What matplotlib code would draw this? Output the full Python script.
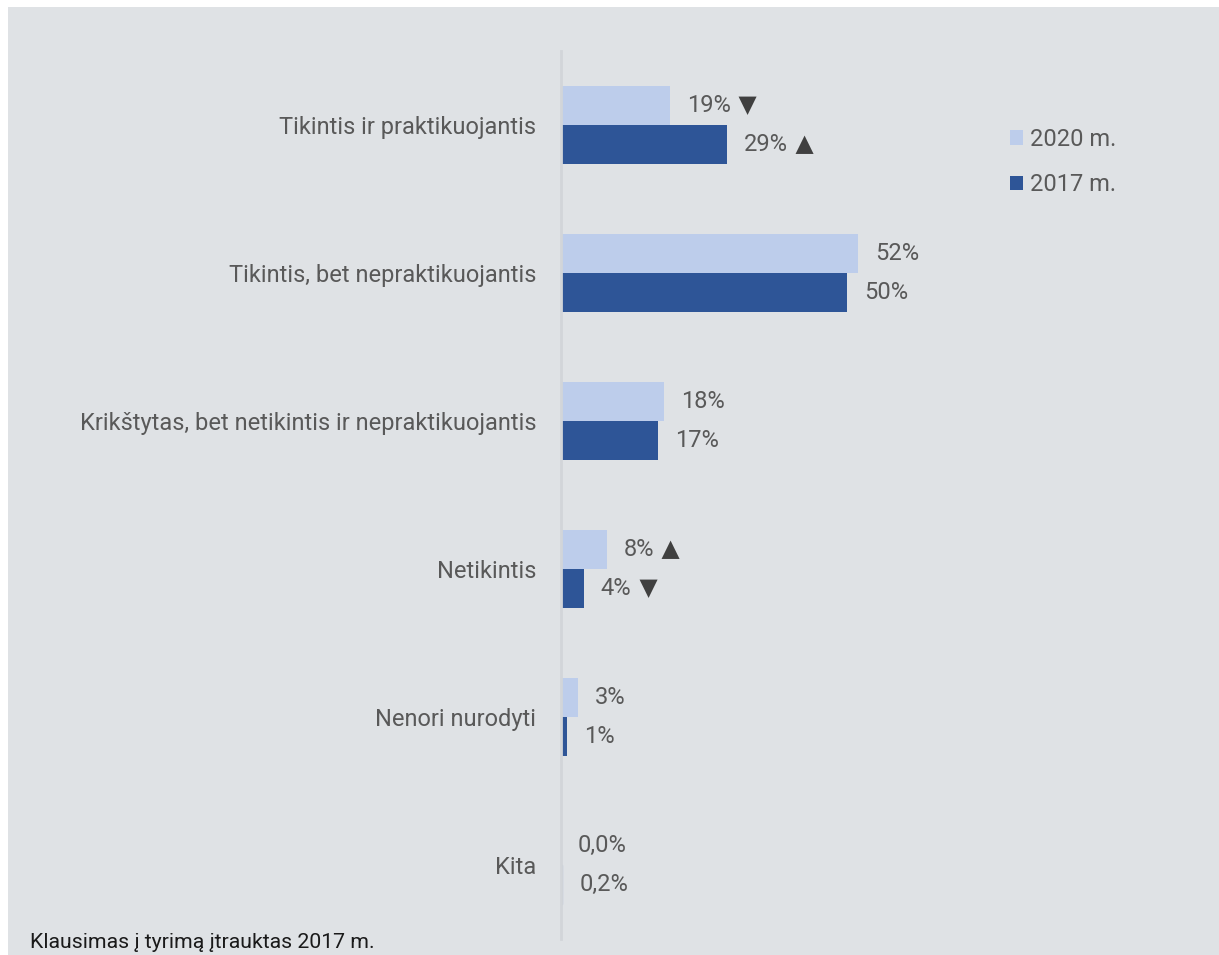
import matplotlib.pyplot as plt
from matplotlib.patches import Rectangle

# data
categories = ["Tikintis ir praktikuojantis", "Tikintis, bet nepraktikuojantis",
              "Krikštytas, bet netikintis ir nepraktikuojantis", "Netikintis",
              "Nenori nurodyti", "Kita"]
values_2020 = [19, 52, 18, 8, 3, 0.0]
values_2017 = [29, 50, 17, 4, 1, 0.2]
labels_2020 = ["19%", "52%", "18%", "8%", "3%", "0,0%"]
labels_2017 = ["29%", "50%", "17%", "4%", "1%", "0,2%"]
arrows_2020 = ["▼", "", "", "▲", "", ""]
arrows_2017 = ["▲", "", "", "▼", "", ""]
series_names = ["2020 m.", "2017 m."]
footnote = "Klausimas į tyrimą įtrauktas 2017 m."

BG = "#DFE2E5"
LIGHT = "#BDCDEB"
DARK = "#2E5597"
GREY_TXT = "#595959"

plt.rcParams['font.family'] = ['Roboto', 'DejaVu Sans']

W, H = 1219, 955
fig = plt.figure(figsize=(W / 100, H / 100), dpi=100, facecolor="white")
fig.patches.append(Rectangle((8 / W, 0), 1, 1 - 7 / H, transform=fig.transFigure,
                             facecolor=BG, edgecolor="none", zorder=-10))

# axes: spine at x=561, top 51, bottom 939
ax_left, ax_top, ax_bottom = 561, 51, 939
xmax = 60
px_per_unit = 5.72
ax = fig.add_axes([ax_left / W, 1 - ax_bottom / H,
                   xmax * px_per_unit / W, (ax_bottom - ax_top) / H])
ax.set_facecolor("none")

n = len(categories)
ypos = list(range(n))
h = 0.264
y20 = [y - h / 2 for y in ypos]
y17 = [y + h / 2 for y in ypos]

b20 = ax.barh(y20, values_2020, height=h, color=LIGHT, label=series_names[0])
b17 = ax.barh(y17, values_2017, height=h, color=DARK, label=series_names[1])
# the tiny 0.2% bar shows pale in the original
b17[-1].set_color("#B9C3D6")

for ys, vals, labs, arrs in [(y20, values_2020, labels_2020, arrows_2020),
                             (y17, values_2017, labels_2017, arrows_2017)]:
    for y, v, lab, arr in zip(ys, vals, labs, arrs):
        t = ax.annotate(lab, (v, y), xytext=(17, 0), textcoords="offset pixels",
                        va="center", ha="left", fontsize=17, color=GREY_TXT,
                        annotation_clip=False)
        if arr:
            ax.annotate(" " + arr, xy=(1, 0.5), xycoords=t, va="center",
                        ha="left", fontsize=17, color="#404040",
                        family="DejaVu Sans")

ax.set_xlim(0, xmax)
ax.set_ylim(n - 0.5, -0.5)
ax.set_yticks(ypos)
ax.set_yticklabels(categories, fontsize=17, color=GREY_TXT)
ax.tick_params(axis="y", length=0, pad=18)
ax.set_xticks([])
for s in ["top", "right", "bottom"]:
    ax.spines[s].set_visible(False)
ax.spines["left"].set_color("#D2D5D9")
ax.spines["left"].set_linewidth(2)

leg = fig.legend(handles=[b20, b17], loc="upper left",
                 bbox_to_anchor=(998 / W, 1 - 116 / H), frameon=False,
                 fontsize=17, handlelength=0.55, handleheight=0.55,
                 handletextpad=0.3, labelspacing=0.95, borderpad=0)
for t in leg.get_texts():
    t.set_color(GREY_TXT)

fig.text(30 / W, 1 - 948 / H, footnote, fontsize=15.3, color="#1A1A1A",
         ha="left", va="baseline")

fig.savefig("out.png", dpi=100, facecolor=fig.get_facecolor())
